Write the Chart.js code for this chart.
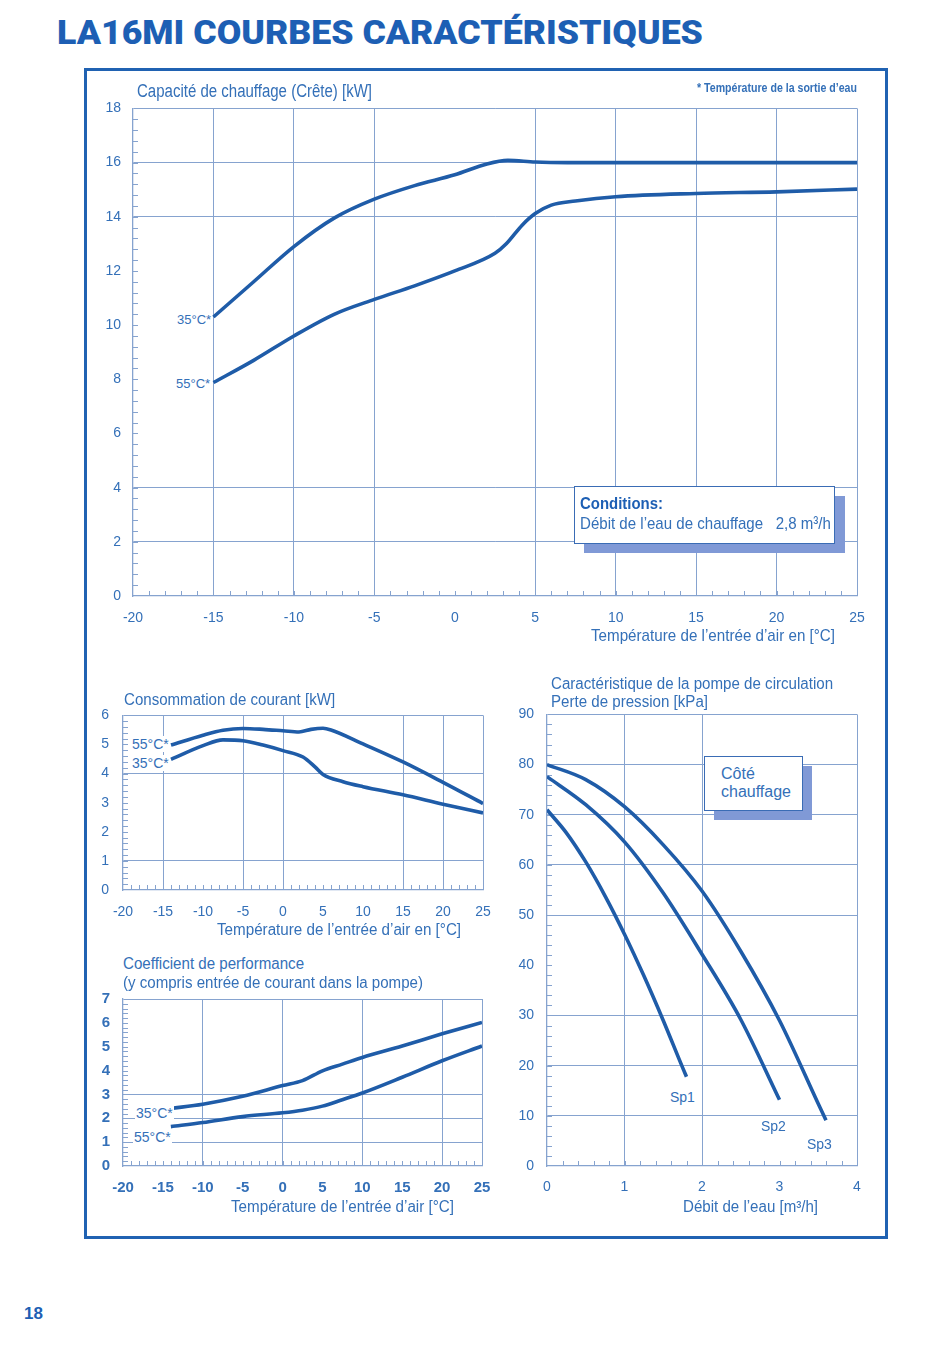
<!DOCTYPE html>
<html lang="fr">
<head>
<meta charset="utf-8">
<title>LA16MI courbes caractéristiques</title>
<script src="https://cdn.jsdelivr.net/npm/chart.js@4.4.1/dist/chart.umd.min.js"></script>
<style>
  body { margin: 0; width: 950px; height: 1356px; position: relative; background: #fff; overflow: hidden;
         font-family: "Liberation Sans", Arial, sans-serif; color: #3470b8; }
  .t { position: absolute; white-space: nowrap; line-height: 1; transform-origin: 0 50%; z-index: 3; }
  .n { font-family: "Liberation Sans Narrow", "Liberation Sans", Arial, sans-serif; }
  .bg { background: #fff; padding: 1px 1px; }
  canvas { position: absolute; z-index: 2; }
  #frame { position: absolute; left: 84px; top: 68px; width: 798px; height: 1165px; border: 3px solid #2062b2; }
  .box { position: absolute; background: #fff; border: 1.5px solid #3a6cb5; z-index: 4; }
  .shadow { position: absolute; background: #8099d6; z-index: 3; }
  #title { font-family: Roboto, "Liberation Sans", Arial, sans-serif; font-weight: 900; color: #1d5fb4; font-size: 34px; }
</style>
</head>
<body>
<div id="frame"></div>

<div class="t" id="title" style="left:57px; top:15px;" data-w="646">LA16MI COURBES CARACTÉRISTIQUES</div>

<!-- chauffage -->
<div class="t n" style="left:137px; top:82px; font-size:18px;" data-w="235">Capacité de chauffage (Crête) [kW]</div>
<div class="t n" style="left:697px; top:82px; font-size:12px; font-weight:bold;" data-w="160">* Température de la sortie d’eau</div>
<div class="t n" style="left:591px; top:627px; font-size:17px;" data-w="244">Température de l’entrée d’air en [°C]</div>
<div class="t bg" style="left:176px; top:312px; font-size:13px;">35°C*</div>
<div class="t bg" style="left:175px; top:376px; font-size:13px;">55°C*</div>
<div class="shadow" style="left:584px; top:496px; width:261px; height:57px;"></div>
<div class="box" style="left:574px; top:486px; width:259px; height:56px;"></div>
<div class="t n" style="left:580px; top:495px; font-size:17px; font-weight:bold; color:#1d5fb4; z-index:5;" data-w="83">Conditions:</div>
<div class="t n" style="left:580px; top:515px; font-size:17px; z-index:5;" data-w="251">Débit de l’eau de chauffage &nbsp; 2,8 m³/h</div>

<!-- consommation -->
<div class="t" style="left:124px; top:692px; font-size:16px;" data-w="211">Consommation de courant [kW]</div>
<div class="t" style="left:217px; top:922px; font-size:16px;" data-w="244">Température de l’entrée d’air en [°C]</div>
<div class="t bg" style="left:131px; top:736px; font-size:14px;">55°C*</div>
<div class="t bg" style="left:131px; top:755px; font-size:14px;">35°C*</div>

<!-- COP -->
<div class="t" style="left:123px; top:956px; font-size:16px;" data-w="181">Coefficient de performance</div>
<div class="t" style="left:123px; top:975px; font-size:16px;" data-w="300">(y compris entrée de courant dans la pompe)</div>
<div class="t" style="left:231px; top:1199px; font-size:16px;" data-w="223">Température de l’entrée d’air [°C]</div>
<div class="t bg" style="left:135px; top:1105px; font-size:14px;">35°C*</div>
<div class="t bg" style="left:133px; top:1129px; font-size:14px;">55°C*</div>

<!-- pompe -->
<div class="t" style="left:551px; top:676px; font-size:16px;" data-w="282">Caractéristique de la pompe de circulation</div>
<div class="t" style="left:551px; top:694px; font-size:16px;" data-w="157">Perte de pression [kPa]</div>
<div class="t" style="left:683px; top:1199px; font-size:16px;" data-w="135">Débit de l’eau [m³/h]</div>
<div class="shadow" style="left:714px; top:766px; width:98px; height:54px;"></div>
<div class="box" style="left:704px; top:756px; width:97px; height:53px;"></div>
<div class="t" style="left:721px; top:766px; font-size:16px; z-index:5;">Côté</div>
<div class="t" style="left:721px; top:784px; font-size:16px; z-index:5;">chauffage</div>
<div class="t bg" style="left:669px; top:1089px; font-size:14px;">Sp1</div>
<div class="t bg" style="left:757px; top:1118px; font-size:14px; padding:1px 4px;">Sp2</div>
<div class="t bg" style="left:806px; top:1136px; font-size:14px;">Sp3</div>

<div class="t n" style="left:24px; top:1305px; font-size:17px; font-weight:bold; color:#1d5fb4;">18</div>

<canvas id="capChart" width="800" height="567" style="left:85px; top:88px;"></canvas>
<canvas id="powChart" width="420" height="246" style="left:85px; top:693px;"></canvas>
<canvas id="copChart" width="420" height="237" style="left:85px; top:977px;"></canvas>
<canvas id="pumpChart" width="375" height="515" style="left:505px; top:693px;"></canvas>

<script>
// --- données ---

// Capacité de chauffage [kW] en fonction de la température d'air [°C]
const capTemp35 = [-15, -12.5, -10, -7.5, -5, -2.5, 0, 2, 3.3, 5, 7, 10, 15, 20, 25];
const cap35     = [10.3, 11.6, 12.9, 13.95, 14.65, 15.15, 15.55, 15.95, 16.08, 16.02, 16.0, 16.0, 16.0, 16.0, 16.0];
const capTemp55 = [-15, -12.5, -10, -7.5, -5, -2.5, 0, 2.5, 3.2, 4.2, 5, 6, 7.5, 10, 15, 20, 25];
const cap55     = [7.88, 8.7, 9.6, 10.4, 10.95, 11.45, 12.0, 12.65, 13.0, 13.7, 14.12, 14.43, 14.58, 14.74, 14.86, 14.92, 15.02];

// Consommation de courant [kW]
const powTemp55 = [-14, -10, -7.5, -5, -2.5, 0, 2, 3.5, 5, 6, 10, 15, 20, 25];
const pow55     = [4.98, 5.32, 5.49, 5.55, 5.52, 5.47, 5.43, 5.52, 5.56, 5.5, 5.02, 4.4, 3.7, 2.97];
const powTemp35 = [-14, -10, -7.5, -5, -2.5, 0, 2.5, 4, 5, 7.5, 10, 15, 20, 25];
const pow35     = [4.49, 4.96, 5.16, 5.13, 4.98, 4.79, 4.57, 4.23, 3.97, 3.72, 3.55, 3.27, 2.95, 2.65];

// Coefficient de performance
const copTemp = [-14, -10, -5, 0, 2.5, 5, 7.5, 10, 15, 20, 25];
const cop35   = [2.41, 2.59, 2.92, 3.37, 3.58, 3.99, 4.27, 4.55, 5.03, 5.54, 6.02];
const cop55   = [1.65, 1.82, 2.07, 2.23, 2.34, 2.51, 2.78, 3.06, 3.72, 4.41, 5.03];

// Pompe de circulation : perte de pression [kPa] / débit [m³/h]
const sp1Flow = [0, 0.25, 0.5, 0.75, 1, 1.25, 1.5, 1.75, 1.8];
const sp1     = [71, 66.4, 60.6, 53.8, 46.2, 37.9, 29, 19.6, 17.8];
const sp2Flow = [0, 0.5, 1, 1.5, 2, 2.5, 3];
const sp2     = [77.6, 72, 64.6, 54.4, 42.2, 29.2, 13.2];
const sp3Flow = [0, 0.5, 1, 1.5, 2, 2.5, 3, 3.5, 3.6];
const sp3     = [80, 77, 71.6, 64, 54.8, 42.8, 29, 12.4, 9.1];

// graduations et lignes de grille
const tempTicks = { min: -20, max: 25, step: 5 };
const capGridX = [-15, -10, -5, 5, 10, 15, 20, 25];
const capGridY = [2, 4, 14, 16, 18];
const powGridX = [-15, -5, 0, 15, 20, 25];
const powGridY = [1, 4, 6];
const copGridX = [-10, 0, 10, 20, 25];
const copGridY = [1, 2, 3, 7];
const pumpGridX = [1, 2, 4];
const pumpGridY = [10, 20, 30, 50, 60, 70, 80, 90];

// --- style ---
const LINE = '#1f5ca8';
const GRID = '#86a3cf';
const TXT  = '#3470b8';

// texte ajusté à la largeur mesurée sur l'original
document.querySelectorAll('[data-w]').forEach(el => {
  const w = el.getBoundingClientRect().width;
  el.style.transform = `scaleX(${(+el.dataset.w / w).toFixed(3)})`;
});

function pts(xs, ys) {
  return xs.map((x, i) => ({ x, y: ys[i] }));
}

function has(list, v) {
  return list.some(g => Math.abs(g - v) < 1e-6);
}

// petites graduations à l'intérieur du cadre
const minorTicks = {
  id: 'minorTicks',
  beforeDatasetsDraw(chart, args, o) {
    const { ctx, chartArea: a, scales: { x, y } } = chart;
    ctx.save();
    ctx.strokeStyle = GRID;
    ctx.lineWidth = 1;
    ctx.beginPath();
    const nx = Math.round((x.max - x.min) / o.x);
    for (let i = 1; i < nx; i++) {
      const p = Math.round(x.getPixelForValue(x.min + i * o.x)) + 0.5;
      ctx.moveTo(p, a.bottom);
      ctx.lineTo(p, a.bottom - o.len);
    }
    const ny = Math.round((y.max - y.min) / o.y);
    for (let i = 1; i < ny; i++) {
      const p = Math.round(y.getPixelForValue(y.min + i * o.y)) + 0.5;
      ctx.moveTo(a.left, p);
      ctx.lineTo(a.left + o.len, p);
    }
    ctx.stroke();
    ctx.restore();
  }
};

function line(data) {
  return {
    data, borderColor: LINE, borderWidth: 3.6, pointRadius: 0,
    cubicInterpolationMode: 'monotone', fill: false
  };
}

function makeChart(id, c) {
  const tickFont = c.font || { family: '"Liberation Sans", Arial, sans-serif', size: 14 };
  return new Chart(document.getElementById(id), {
    type: 'line',
    data: { datasets: c.datasets },
    plugins: [minorTicks],
    options: {
      responsive: false,
      animation: false,
      layout: { padding: { left: 0, top: 0, right: c.padR, bottom: 0 } },
      plugins: {
        legend: { display: false },
        tooltip: { enabled: false },
        minorTicks: c.minor
      },
      scales: {
        x: {
          type: 'linear', min: c.x.min, max: c.x.max,
          afterFit: s => { s.height = c.xH; },
          ticks: { stepSize: c.x.step, color: TXT, font: tickFont, padding: c.xPad, maxRotation: 0, autoSkip: false },
          grid: { drawTicks: false, lineWidth: 1, color: t => has(c.gridX, t.tick.value) ? GRID : 'rgba(0,0,0,0)' },
          border: { color: GRID, width: 1.3 }
        },
        y: {
          type: 'linear', min: c.y.min, max: c.y.max,
          afterFit: s => { s.width = c.yW; },
          ticks: { stepSize: c.y.step, color: TXT, font: tickFont, padding: c.yPad, autoSkip: false },
          grid: { drawTicks: false, lineWidth: 1, color: t => has(c.gridY, t.tick.value) ? GRID : 'rgba(0,0,0,0)' },
          border: { color: GRID, width: 1.3 }
        }
      }
    }
  });
}

makeChart('capChart', {
  x: tempTicks, y: { min: 0, max: 18, step: 2 },
  gridX: capGridX, gridY: capGridY,
  yW: 48, xH: 59, padR: 28, xPad: 14, yPad: 12,
  minor: { x: 1, y: 0.4, len: 5 },
  datasets: [line(pts(capTemp35, cap35)), line(pts(capTemp55, cap55))]
});

makeChart('powChart', {
  x: tempTicks, y: { min: 0, max: 6, step: 1 },
  gridX: powGridX, gridY: powGridY,
  yW: 38, xH: 49, padR: 22, xPad: 14, yPad: 14,
  minor: { x: 1, y: 0.2, len: 5 },
  datasets: [line(pts(powTemp55, pow55)), line(pts(powTemp35, pow35))]
});

makeChart('copChart', {
  x: tempTicks, y: { min: 0, max: 7, step: 1 },
  gridX: copGridX, gridY: copGridY,
  yW: 38, xH: 48, padR: 23, xPad: 13, yPad: 13,
  font: { family: '"Liberation Sans", Arial, sans-serif', size: 15, weight: 'bold' },
  minor: { x: 1, y: 0.2, len: 5 },
  datasets: [line(pts(copTemp, cop35)), line(pts(copTemp, cop55))]
});

makeChart('pumpChart', {
  x: { min: 0, max: 4, step: 1 }, y: { min: 0, max: 90, step: 10 },
  gridX: pumpGridX, gridY: pumpGridY,
  yW: 42, xH: 42, padR: 23, xPad: 13, yPad: 13,
  minor: { x: 0.2, y: 2, len: 5 },
  datasets: [line(pts(sp1Flow, sp1)), line(pts(sp2Flow, sp2)), line(pts(sp3Flow, sp3))]
});
</script>
</body>
</html>
